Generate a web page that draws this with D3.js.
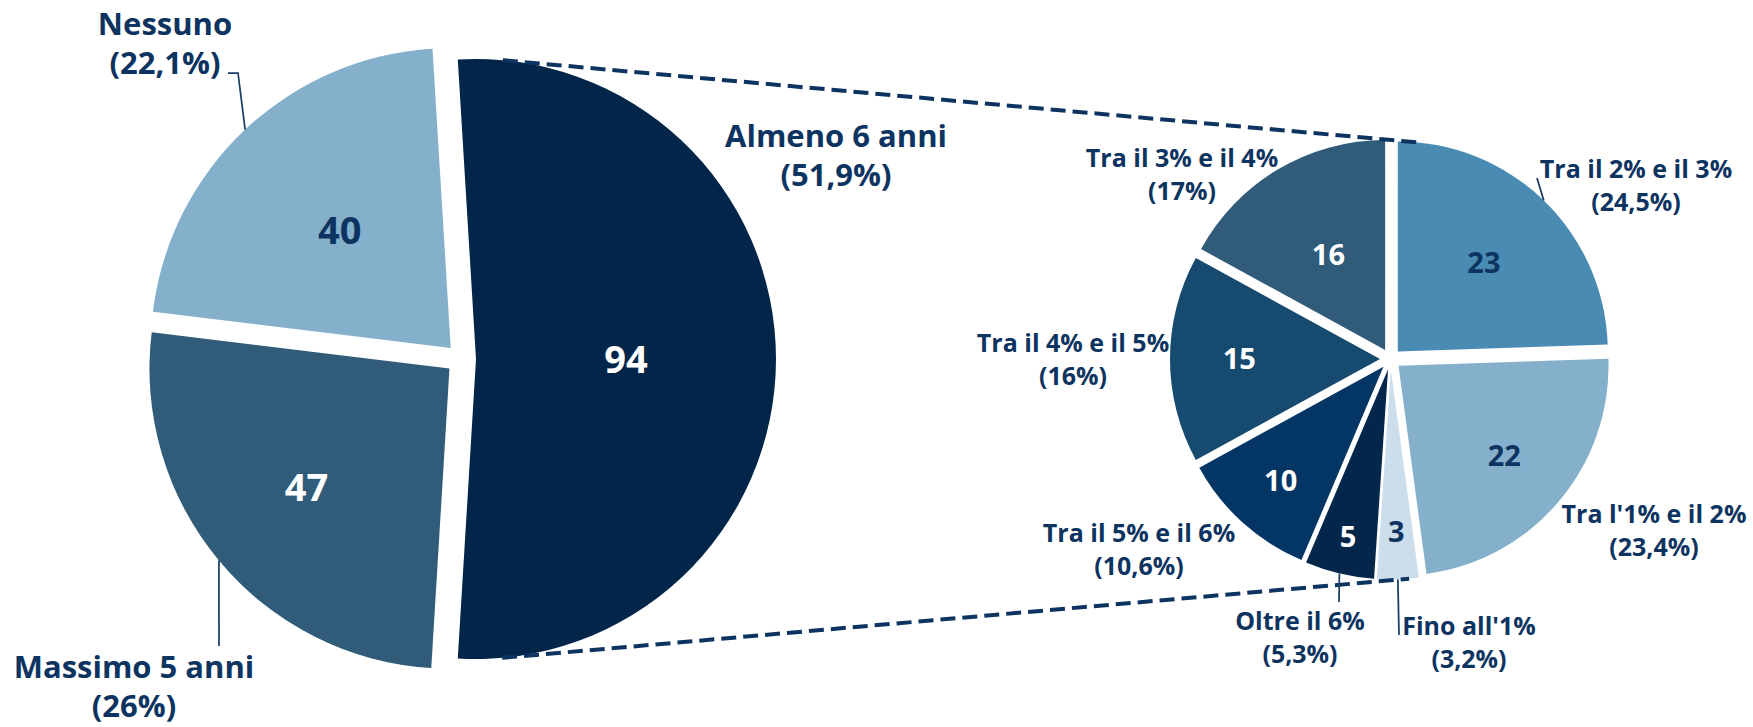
<!DOCTYPE html>
<html>
<head>
<meta charset="utf-8">
<script src="https://cdn.jsdelivr.net/npm/d3@7"></script>
<style>
  html, body { margin: 0; padding: 0; background: #fff; }
  svg { display: block; font-family: "Open Sans", sans-serif; font-weight: 700; }
</style>
</head>
<body>
<div id="chart"></div>
<script>
// Main pie data
const mainCategories = ["Almeno 6 anni", "Massimo 5 anni", "Nessuno"];
const mainValues = [94, 47, 40];
const mainPercents = ["51,9%", "26%", "22,1%"];

// Secondary pie data (breakdown of "Almeno 6 anni")
const subCategories = [
  "Tra il 2% e il 3%",
  "Tra l'1% e il 2%",
  "Fino all'1%",
  "Oltre il 6%",
  "Tra il 5% e il 6%",
  "Tra il 4% e il 5%",
  "Tra il 3% e il 4%",
];
const subValues = [23, 22, 3, 5, 10, 15, 16];
const subPercents = ["24,5%", "23,4%", "3,2%", "5,3%", "10,6%", "16%", "17%"];

// Layout
const W = 1753, H = 727;
const ink = "#0d3460";

const mainCfg = {
  cx: 461, cy: 359, r: 300, explode: 15,
  // split slice centred on the right side
  start: Math.PI / 2 - Math.PI * mainValues[0] / d3.sum(mainValues),
  colors: ["#02264a", "#305c7a", "#84b0cc"],
  valueColors: ["#fff", "#fff", ink],
  valueRadius: [0.5, 0.62, 0.54],
  valueSize: 38,
  labelSize: 31,
  lineStep: 39,
  labels: [[836, 147], [134, 678], [165, 35]],
  leaders: [null, [[219, 646]], [[238, 73], [228, 73]]],
};

const subCfg = {
  cx: 1390.5, cy: 359, r: 210, explode: 10.5,
  start: 0,
  colors: ["#4a8bb4", "#84b0cc", "#ccdeeb", "#03264b", "#033565", "#164a6e", "#305c7a"],
  valueColors: [ink, ink, ink, "#fff", "#fff", "#fff", "#fff"],
  valueRadius: [0.59, 0.66, 0.77, 0.82, 0.73, 0.67, 0.53],
  valueSize: 29,
  labelSize: 25,
  lineStep: 33,
  labels: [[1636, 178], [1654, 523], [1469, 635], [1300, 630], [1139, 542], [1073, 352], [1182, 167]],
  leaders: [[[1537, 178]], null, [[1399, 635]], [[1339, 602]], null, null, null],
};

const svg = d3.select("#chart").append("svg").attr("width", W).attr("height", H);

function midAngle(d) {
  return (d.startAngle + d.endAngle) / 2;
}

// Apex of an exploded slice, in page coordinates
function apex(cfg, d) {
  const m = midAngle(d);
  return [cfg.cx + Math.sin(m) * cfg.explode, cfg.cy - Math.cos(m) * cfg.explode];
}

// Draw one pie with value labels, return its arcs
function drawPie(cfg, values) {
  const pie = d3.pie().sort(null)
    .startAngle(cfg.start)
    .endAngle(cfg.start + 2 * Math.PI);
  const arcs = pie(values);
  const arc = d3.arc().innerRadius(0).outerRadius(cfg.r);

  const slice = svg.append("g")
    .selectAll("g")
    .data(arcs)
    .enter()
    .append("g")
    .attr("transform", (d) => `translate(${apex(cfg, d)})`);

  slice.append("path")
    .attr("d", arc)
    .attr("fill", (d) => cfg.colors[d.index]);

  slice.append("text")
    .attr("x", (d) => Math.sin(midAngle(d)) * cfg.r * cfg.valueRadius[d.index])
    .attr("y", (d) => -Math.cos(midAngle(d)) * cfg.r * cfg.valueRadius[d.index])
    .attr("dy", "0.36em")
    .attr("text-anchor", "middle")
    .attr("font-size", cfg.valueSize)
    .attr("fill", (d) => cfg.valueColors[d.index])
    .text((d) => d.data);

  return arcs;
}

// Category labels plus leader lines from the slice arc
function drawLabels(cfg, arcs, names, percents) {
  const lbl = svg.append("g")
    .selectAll("text")
    .data(arcs)
    .enter()
    .append("text")
    .attr("text-anchor", "middle")
    .attr("font-size", cfg.labelSize)
    .attr("fill", ink);

  lbl.append("tspan")
    .attr("x", (d) => cfg.labels[d.index][0])
    .attr("y", (d) => cfg.labels[d.index][1])
    .text((d) => names[d.index]);
  lbl.append("tspan")
    .attr("x", (d) => cfg.labels[d.index][0])
    .attr("y", (d) => cfg.labels[d.index][1] + cfg.lineStep)
    .text((d) => `(${percents[d.index]})`);

  const line = d3.line();
  svg.append("g")
    .selectAll("path")
    .data(arcs.filter((d) => cfg.leaders[d.index]))
    .enter()
    .append("path")
    .attr("fill", "none")
    .attr("stroke", "#1a3f66")
    .attr("stroke-width", 1.75)
    .attr("d", (d) => {
      const [ax, ay] = apex(cfg, d);
      const m = midAngle(d);
      const onArc = [ax + Math.sin(m) * cfg.r, ay - Math.cos(m) * cfg.r];
      return line([onArc, ...cfg.leaders[d.index]]);
    });
}

const mainArcs = drawPie(mainCfg, mainValues);
const subArcs = drawPie(subCfg, subValues);

// Connector lines: outer tangents between split slice and secondary pie
function findSlice(arcs, angle) {
  const a = (angle + 2 * Math.PI) % (2 * Math.PI);
  return arcs.find((d) => a >= d.startAngle && a < d.endAngle) || arcs[0];
}

function tangent(c1, r1, c2, r2, side) {
  const dx = c2[0] - c1[0], dy = c2[1] - c1[1];
  const dist = Math.hypot(dx, dy);
  const base = Math.atan2(dy, dx);
  const beta = Math.acos((r1 - r2) / dist);
  const t = base - side * beta;
  const n = [Math.cos(t), Math.sin(t)];
  return [
    [c1[0] + n[0] * r1, c1[1] + n[1] * r1],
    [c2[0] + n[0] * r2, c2[1] + n[1] * r2],
    n,
  ];
}

const splitApex = apex(mainCfg, mainArcs[0]);
[1, -1].forEach((side) => {
  // first pass against the unexploded centre, then snap to the slice hit
  const first = tangent(splitApex, mainCfg.r, [subCfg.cx, subCfg.cy], subCfg.r, side);
  const n = first[2];
  const hit = findSlice(subArcs, Math.atan2(n[0], -n[1]));
  const [p1, p2] = tangent(splitApex, mainCfg.r, apex(subCfg, hit), subCfg.r, side);
  svg.append("line")
    .attr("x1", p1[0]).attr("y1", p1[1])
    .attr("x2", p2[0]).attr("y2", p2[1])
    .attr("stroke", ink)
    .attr("stroke-width", 4)
    .attr("stroke-dasharray", "15,7");
});

drawLabels(mainCfg, mainArcs, mainCategories, mainPercents);
drawLabels(subCfg, subArcs, subCategories, subPercents);
</script>
</body>
</html>
